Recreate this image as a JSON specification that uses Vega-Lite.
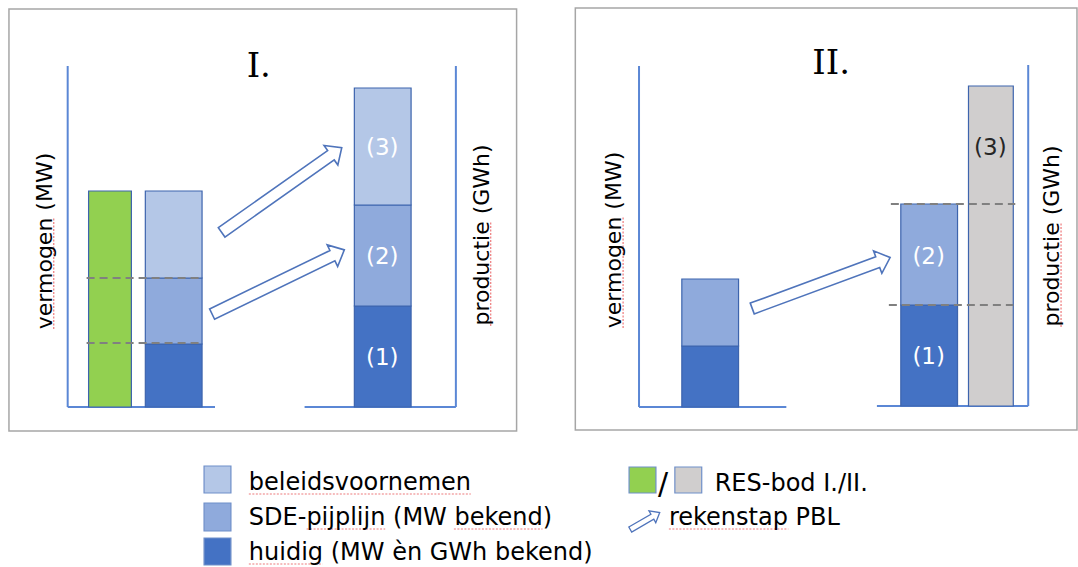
{
  "$schema": "https://vega.github.io/schema/vega-lite/v6.json",
  "width": 1078,
  "height": 567,
  "autosize": {"type": "fit", "contains": "padding"},
  "padding": 0,
  "background": "white",
  "config": {
    "view": {"stroke": null},
    "axis": {"disable": true},
    "legend": {"disable": true},
    "text": {"font": "DejaVu Sans"}
  },
  "datasets": {
    "frames": [
      {"panel": "I", "x0": 9, "x1": 519, "y0": -24, "y1": 398},
      {"panel": "II", "x0": 578, "x1": 1082, "y0": -23, "y1": 399}
    ],
    "axislines": [
      {"panel": "I", "x0": 68, "x1": 68, "y0": 0, "y1": 341},
      {"panel": "I", "x0": 68, "x1": 216, "y0": 0, "y1": 0},
      {"panel": "I", "x0": 458, "x1": 458, "y0": 0, "y1": 341},
      {"panel": "I", "x0": 306, "x1": 458, "y0": 0, "y1": 0},
      {"panel": "II", "x0": 642, "x1": 642, "y0": 0, "y1": 341},
      {"panel": "II", "x0": 642, "x1": 790, "y0": 0, "y1": 0},
      {"panel": "II", "x0": 1033, "x1": 1033, "y0": 1, "y1": 342},
      {"panel": "II", "x0": 881, "x1": 1033, "y0": 1, "y1": 1}
    ],
    "bars": [
      {"panel": "I", "part": "RES-bod I", "x0": 89, "x1": 132, "y0": 0, "y1": 216},
      {"panel": "I", "part": "huidig", "x0": 146, "x1": 203, "y0": 0, "y1": 63},
      {"panel": "I", "part": "SDE-pijplijn", "x0": 146, "x1": 203, "y0": 63, "y1": 129},
      {"panel": "I", "part": "beleidsvoornemen", "x0": 146, "x1": 203, "y0": 129, "y1": 216},
      {"panel": "I", "part": "huidig", "x0": 356, "x1": 413, "y0": 0, "y1": 101},
      {"panel": "I", "part": "SDE-pijplijn", "x0": 356, "x1": 413, "y0": 101, "y1": 202},
      {"panel": "I", "part": "beleidsvoornemen", "x0": 356, "x1": 413, "y0": 202, "y1": 319},
      {"panel": "II", "part": "huidig", "x0": 685, "x1": 742, "y0": 0, "y1": 61},
      {"panel": "II", "part": "SDE-pijplijn", "x0": 685, "x1": 742, "y0": 61, "y1": 128},
      {"panel": "II", "part": "huidig", "x0": 905, "x1": 962, "y0": 1, "y1": 102},
      {"panel": "II", "part": "SDE-pijplijn", "x0": 905, "x1": 962, "y0": 102, "y1": 203},
      {"panel": "II", "part": "RES-bod II", "x0": 973, "x1": 1018, "y0": 1, "y1": 321}
    ],
    "dashes": [
      {"panel": "I", "x0": 87, "x1": 203, "y": 129},
      {"panel": "I", "x0": 87, "x1": 203, "y": 64},
      {"panel": "II", "x0": 895, "x1": 1020, "y": 203},
      {"panel": "II", "x0": 893, "x1": 1018, "y": 102}
    ],
    "labels": [
      {"panel": "I", "label": "(3)", "x": 384, "y": 259},
      {"panel": "I", "label": "(2)", "x": 384, "y": 150},
      {"panel": "I", "label": "(1)", "x": 384, "y": 49},
      {"panel": "II", "label": "(2)", "x": 933, "y": 150},
      {"panel": "II", "label": "(1)", "x": 933, "y": 50},
      {"panel": "II", "label": "(3)", "x": 995, "y": 259}
    ],
    "titles": [
      {"text": "I.", "x": 260, "y": 330},
      {"text": "II.", "x": 835, "y": 333}
    ],
    "axistitles": [
      {"text": "vermogen (MW)", "x": 45, "y": 166},
      {"text": "productie (GWh)", "x": 484, "y": 172},
      {"text": "vermogen (MW)", "x": 617, "y": 167},
      {"text": "productie (GWh)", "x": 1057, "y": 171}
    ],
    "spelling": [
      {"word": "vermogen", "x0": 54, "x1": 54, "y0": 78, "y1": 190},
      {"word": "productie", "x0": 493, "x1": 493, "y0": 81, "y1": 186},
      {"word": "vermogen", "x0": 626, "x1": 626, "y0": 79, "y1": 191},
      {"word": "productie", "x0": 1066, "x1": 1066, "y0": 80, "y1": 185},
      {"word": "beleidsvoornemen", "x0": 250, "x1": 473, "y0": -87, "y1": -87},
      {"word": "pijplijn", "x0": 308, "x1": 387, "y0": -122, "y1": -122},
      {"word": "bekend", "x0": 456, "x1": 545, "y0": -122, "y1": -122},
      {"word": "huidig", "x0": 250, "x1": 324, "y0": -157, "y1": -157},
      {"word": "rekenstap", "x0": 672, "x1": 792, "y0": -122, "y1": -122}
    ],
    "arrows": [
      {"step": "I boven", "x": 283, "y": 217, "dir": -35.2},
      {"step": "I onder", "x": 279.5, "y": 125, "dir": -25.9},
      {"step": "II", "x": 825, "y": 124, "dir": -20.3}
    ],
    "legendarrow": [
      {"step": "legenda", "x": 648, "y": -114, "dir": -30}
    ],
    "swatches": [
      {"part": "beleidsvoornemen", "x0": 205, "x1": 232, "y0": -86, "y1": -59},
      {"part": "SDE-pijplijn", "x0": 205, "x1": 232, "y0": -124, "y1": -96},
      {"part": "huidig", "x0": 205, "x1": 232, "y0": -158, "y1": -131},
      {"part": "RES-bod I", "x0": 632, "x1": 659, "y0": -86, "y1": -60},
      {"part": "RES-bod II", "x0": 678, "x1": 705, "y0": -86, "y1": -60}
    ],
    "legendtexts": [
      {"text": "beleidsvoornemen", "x": 250, "y": -83},
      {"text": "SDE-pijplijn (MW bekend)", "x": 250, "y": -118},
      {"text": "huidig (MW èn GWh bekend)", "x": 250, "y": -153},
      {"text": "RES-bod I./II.", "x": 718, "y": -84},
      {"text": "rekenstap PBL", "x": 672, "y": -118}
    ],
    "slash": [
      {"text": "/", "x": 661, "y": -87}
    ]
  },
  "layer": [
    {
      "data": {"name": "frames"},
      "mark": {"type": "rect", "fill": "white", "stroke": "#a6a6a6", "strokeWidth": 1.5},
      "encoding": {
        "x": {"field": "x0", "type": "quantitative", "scale": {"domain": [0, 1078], "nice": false, "zero": false}},
        "x2": {"field": "x1"},
        "y": {"field": "y0", "type": "quantitative", "scale": {"domain": [-160, 407], "nice": false, "zero": false}},
        "y2": {"field": "y1"}
      }
    },
    {
      "data": {"name": "axislines"},
      "mark": {"type": "rule", "stroke": "#5b87d5", "strokeWidth": 2},
      "encoding": {
        "x": {"field": "x0", "type": "quantitative"},
        "x2": {"field": "x1"},
        "y": {"field": "y0", "type": "quantitative"},
        "y2": {"field": "y1"}
      }
    },
    {
      "data": {"name": "bars"},
      "mark": {"type": "rect", "stroke": "#3d64ad", "strokeWidth": 1.2},
      "encoding": {
        "x": {"field": "x0", "type": "quantitative"},
        "x2": {"field": "x1"},
        "y": {"field": "y0", "type": "quantitative"},
        "y2": {"field": "y1"},
        "color": {
          "field": "part",
          "type": "nominal",
          "scale": {
            "domain": ["beleidsvoornemen", "SDE-pijplijn", "huidig", "RES-bod I", "RES-bod II"],
            "range": ["#b4c7e7", "#8faadc", "#4472c4", "#92d050", "#d0cece"]
          }
        }
      }
    },
    {
      "data": {"name": "dashes"},
      "mark": {"type": "rule", "stroke": "#808080", "strokeWidth": 2, "strokeDash": [8, 5]},
      "encoding": {
        "x": {"field": "x0", "type": "quantitative"},
        "x2": {"field": "x1"},
        "y": {"field": "y", "type": "quantitative"}
      }
    },
    {
      "data": {"name": "labels"},
      "transform": [{"filter": "datum.panel === 'I' || datum.label !== '(3)'"}],
      "mark": {"type": "text", "fontSize": 23, "color": "white", "align": "center", "baseline": "middle"},
      "encoding": {
        "x": {"field": "x", "type": "quantitative"},
        "y": {"field": "y", "type": "quantitative"},
        "text": {"field": "label"}
      }
    },
    {
      "data": {"name": "labels"},
      "transform": [{"filter": "datum.panel === 'II' && datum.label === '(3)'"}],
      "mark": {"type": "text", "fontSize": 23, "color": "#262626", "align": "center", "baseline": "middle"},
      "encoding": {
        "x": {"field": "x", "type": "quantitative"},
        "y": {"field": "y", "type": "quantitative"},
        "text": {"field": "label"}
      }
    },
    {
      "data": {"name": "titles"},
      "mark": {"type": "text", "font": "DejaVu Serif", "fontSize": 34, "color": "black", "align": "center", "baseline": "alphabetic"},
      "encoding": {
        "x": {"field": "x", "type": "quantitative"},
        "y": {"field": "y", "type": "quantitative"},
        "text": {"field": "text"}
      }
    },
    {
      "data": {"name": "spelling"},
      "mark": {"type": "rule", "stroke": "#e8585a", "strokeWidth": 1.2, "strokeDash": [2, 1.5], "opacity": 0.8},
      "encoding": {
        "x": {"field": "x0", "type": "quantitative"},
        "x2": {"field": "x1"},
        "y": {"field": "y0", "type": "quantitative"},
        "y2": {"field": "y1"}
      }
    },
    {
      "data": {"name": "axistitles"},
      "mark": {"type": "text", "fontSize": 22, "color": "black", "angle": 270, "align": "center", "baseline": "middle"},
      "encoding": {
        "x": {"field": "x", "type": "quantitative"},
        "y": {"field": "y", "type": "quantitative"},
        "text": {"field": "text"}
      }
    },
    {
      "data": {"name": "arrows"},
      "mark": {
        "type": "point",
        "filled": false,
        "fill": "white",
        "fillOpacity": 1,
        "stroke": "#4f74bb",
        "strokeWidth": 1.6,
        "opacity": 1,
        "size": 21609,
        "shape": "M -1 -0.078 L 0.82 -0.078 L 0.82 -0.163 L 1 0 L 0.82 0.163 L 0.82 0.078 L -1 0.078 Z"
      },
      "encoding": {
        "x": {"field": "x", "type": "quantitative"},
        "y": {"field": "y", "type": "quantitative"},
        "angle": {"field": "dir", "type": "quantitative", "scale": null}
      }
    },
    {
      "data": {"name": "swatches"},
      "mark": {"type": "rect", "stroke": "#6f8fc9", "strokeWidth": 1.2},
      "encoding": {
        "x": {"field": "x0", "type": "quantitative"},
        "x2": {"field": "x1"},
        "y": {"field": "y0", "type": "quantitative"},
        "y2": {"field": "y1"},
        "color": {"field": "part", "type": "nominal"}
      }
    },
    {
      "data": {"name": "legendarrow"},
      "mark": {
        "type": "point",
        "filled": false,
        "fill": "white",
        "fillOpacity": 1,
        "stroke": "#4f74bb",
        "strokeWidth": 1.3,
        "opacity": 1,
        "size": 1156,
        "shape": "M -1 -0.17 L 0.5 -0.17 L 0.5 -0.4 L 1 0 L 0.5 0.4 L 0.5 0.17 L -1 0.17 Z"
      },
      "encoding": {
        "x": {"field": "x", "type": "quantitative"},
        "y": {"field": "y", "type": "quantitative"},
        "angle": {"field": "dir", "type": "quantitative", "scale": null}
      }
    },
    {
      "data": {"name": "legendtexts"},
      "mark": {"type": "text", "fontSize": 24, "color": "black", "align": "left", "baseline": "alphabetic"},
      "encoding": {
        "x": {"field": "x", "type": "quantitative"},
        "y": {"field": "y", "type": "quantitative"},
        "text": {"field": "text"}
      }
    },
    {
      "data": {"name": "slash"},
      "mark": {"type": "text", "fontSize": 30, "color": "black", "align": "left", "baseline": "alphabetic"},
      "encoding": {
        "x": {"field": "x", "type": "quantitative"},
        "y": {"field": "y", "type": "quantitative"},
        "text": {"field": "text"}
      }
    }
  ]
}
